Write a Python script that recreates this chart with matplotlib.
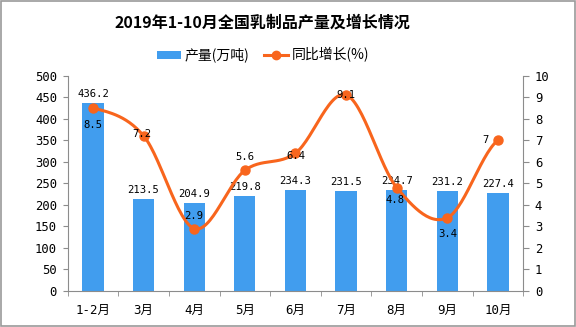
import numpy as np
import matplotlib
matplotlib.use("Agg")
import matplotlib.pyplot as plt
from matplotlib.lines import Line2D
from matplotlib.patches import Patch, Rectangle

plt.rcParams['font.family'] = ['Noto Sans CJK SC', 'DejaVu Sans']
NUMFONT = ['DejaVu Sans Mono', 'Noto Sans CJK SC']

categories = ["1-2月", "3月", "4月", "5月", "6月", "7月", "8月", "9月", "10月"]
output = [436.2, 213.5, 204.9, 219.8, 234.3, 231.5, 234.7, 231.2, 227.4]
growth = [8.5, 7.2, 2.9, 5.6, 6.4, 9.1, 4.8, 3.4, 7]
growth_labels = ["8.5", "7.2", "2.9", "5.6", "6.4", "9.1", "4.8", "3.4", "7"]
left_ticks = [0, 50, 100, 150, 200, 250, 300, 350, 400, 450, 500]
right_ticks = [0, 1, 2, 3, 4, 5, 6, 7, 8, 9, 10]

# label offsets in pixels (dx, dy) for line labels
line_label_offsets = [(0, -17), (-2, 2), (0, 13), (0, 13), (0, -3), (0, 0), (-2, -12), (0, -16), (-12, 0)]

BAR = "#419DEE"
LINE = "#F8651D"
AXC = "#8c8c8c"

fig = plt.figure(figsize=(5.76, 3.27), dpi=100)
fig.patch.set_facecolor("white")
fig.add_artist(Rectangle((0.001, 0.002), 0.997, 0.996, transform=fig.transFigure,
                         fill=False, edgecolor="#9a9a9a", linewidth=1.2))

ax = fig.add_axes([0.1175, 0.110, 0.791, 0.659])
x = np.arange(len(categories))
bars = ax.bar(x, output, width=0.42, color=BAR, zorder=2)
ax.set_xlim(-0.5, len(categories) - 0.5)
ax.set_ylim(0, 500)
ax.set_yticks(left_ticks)
ax.set_xticks(x)
ax.set_xticklabels(categories, family=NUMFONT)
ax.set_xticks(np.arange(-0.5, len(categories), 1.0), minor=True)
ax.tick_params(axis="x", which="major", length=0, pad=9, labelsize=9)
ax.tick_params(axis="x", which="minor", length=3.5, color=AXC)
ax.tick_params(axis="y", length=3.6, color=AXC, pad=4, labelsize=8.8)
for lab in ax.get_yticklabels():
    lab.set_family(NUMFONT)
for s in ["top", "right"]:
    ax.spines[s].set_visible(False)
for s in ["left", "bottom"]:
    ax.spines[s].set_color(AXC)

for xi, v in zip(x, output):
    ax.annotate(f"{v}", (xi, v), xytext=(0, 9), textcoords="offset pixels",
                ha="center", va="center", fontsize=7.6, family=NUMFONT)

ax2 = ax.twinx()
ax2.set_ylim(0, 10)
ax2.set_yticks(right_ticks)
for s in ["top", "left", "bottom"]:
    ax2.spines[s].set_visible(False)
ax2.spines["right"].set_color(AXC)
ax2.tick_params(axis="y", length=4.3, color=AXC, pad=4, labelsize=8.8)
for lab in ax2.get_yticklabels():
    lab.set_family(NUMFONT)

# smooth curve (Catmull-Rom) through the data points
gx = np.asarray(x, float)
gy = np.asarray(growth, float)
px = np.concatenate([[2 * gx[0] - gx[1]], gx, [2 * gx[-1] - gx[-2]]])
py = np.concatenate([[gy[0]], gy, [gy[-1]]])
cx, cy = [], []
t = np.linspace(0, 1, 30)
for i in range(1, len(px) - 2):
    p0, p1, p2, p3 = [np.array([px[j], py[j]]) for j in (i - 1, i, i + 1, i + 2)]
    for tt in t:
        pt = 0.5 * ((2 * p1) + (-p0 + p2) * tt + (2 * p0 - 5 * p1 + 4 * p2 - p3) * tt ** 2
                    + (-p0 + 3 * p1 - 3 * p2 + p3) * tt ** 3)
        cx.append(pt[0]); cy.append(pt[1])
ax2.plot(cx, cy, color=LINE, linewidth=2.2, zorder=3)
ax2.plot(gx, gy, linestyle="none", marker="o", markersize=6.5, color=LINE, zorder=4)

for xi, v, lab, (dx, dy) in zip(x, growth, growth_labels, line_label_offsets):
    ax2.annotate(lab, (xi, v), xytext=(dx, dy), textcoords="offset pixels",
                 ha="center", va="center", fontsize=7.6, family=NUMFONT, zorder=5)

fig.text(262 / 576, 1 - 22.5 / 327, "2019年1-10月全国乳制品产量及增长情况",
         ha="center", va="center", fontsize=11.5, fontweight="bold")

handles = [Patch(facecolor=BAR, edgecolor="none"),
           Line2D([0], [0], color=LINE, linewidth=2.2, marker="o", markersize=6)]
fig.legend(handles, ["产量(万吨)", "同比增长(%)"], loc="center",
           bbox_to_anchor=(263 / 576, 1 - 55 / 327), ncol=2, frameon=False,
           fontsize=10, handlelength=1.7, handleheight=0.5, handletextpad=0.25,
           columnspacing=1.1)

fig.savefig("out.png", dpi=100)
